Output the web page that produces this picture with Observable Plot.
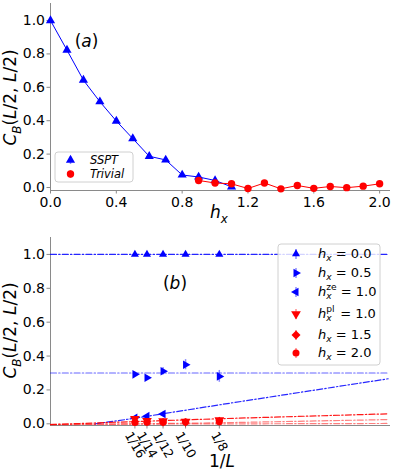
<!DOCTYPE html>
<html><head><meta charset="utf-8">
<script src="https://cdn.jsdelivr.net/npm/d3@7"></script>
<script src="https://cdn.jsdelivr.net/npm/@observablehq/plot@0.6"></script>
<style>body{margin:0;background:#fff}#c svg{display:block}</style>
</head><body><div id="c"></div><script>
// ---------- Panel (a) data ----------
const hxSSPT = [0.0, 0.1, 0.2, 0.3, 0.4, 0.5, 0.6, 0.7, 0.8, 0.9, 1.0, 1.1];
const cbSSPT = [1.0, 0.823, 0.643, 0.514, 0.398, 0.293, 0.187, 0.165, 0.075, 0.063, 0.042, 0.004];
const hxTrivial = [0.9, 1.0, 1.1, 1.2, 1.3, 1.4, 1.5, 1.6, 1.7, 1.8, 1.9, 2.0];
const cbTrivial = [0.042, 0.027, 0.022, -0.006, 0.027, -0.008, 0.012, -0.005, 0.006, -0.001, 0.008, 0.022];
const ticksAx = [0, 0.4, 0.8, 1.2, 1.6, 2.0];
const ticksY = [0, 0.2, 0.4, 0.6, 0.8, 1.0];

// ---------- Panel (b) data ----------
const invL = [1/16, 1/14, 1/12, 1/10, 1/8];
const invLLabels = ["1/16", "1/14", "1/12", "1/10", "1/8"];
const cb00 = [1, 1, 1, 1, 1];
const cb05 = [0.292, 0.272, 0.31, 0.349, 0.28];
const err05 = [0.012, 0.01, 0.022, 0.03, 0.035];
const invLze = [1/16, 1/14, 1/12];
const cbze = [0.035, 0.045, 0.058];
const errze = [0.008, 0.008, 0.01];
const cbpl = [0.03, 0.018, 0.016, 0.014, 0.022];
const cb15 = [0.012, 0.012, 0.011, 0.011, 0.018];
const cb20 = [0.008, 0.009, 0.009, 0.01, 0.012];
// fitted (dash-dot) lines
const fitFlatX = [0, 0.25];
const fit00 = [1.0, 1.0];
const fit05 = [0.3, 0.3];
const fitzeX = [0.033, 0.06, 0.125, 0.25];
const fitze = [0.0, 0.03, 0.112, 0.266];
const fitplX = [0, 0.125, 0.25];
const fitpl = [-0.004, 0.03, 0.059];
const fit15X = [0, 0.125, 0.25];
const fit15 = [-0.006, 0.006, 0.025];
const fit20X = [0, 0.25];
const fit20 = [-0.003, 0.002];

const BLUE = "#0000ff", RED = "#ff0000";
const FONT = "DejaVu Sans";
const rows = (xs, ys, es) => xs.map((x, i) => ({x, y: ys[i], e: es ? es[i] : 0}));
const DASH = "6,2.2,1.4,2.2";

const baseStyle = {fontFamily: FONT, fontSize: "14px", color: "#8a8a8a", background: "white", overflow: "visible"};

const plotA = Plot.plot({
  width: 394, height: 225,
  marginLeft: 50, marginRight: 5, marginTop: 3, marginBottom: 35,
  style: baseStyle,
  x: {domain: [0, 2.06], ticks: ticksAx, tickFormat: d3.format(".1f"), tickSize: 3.5, tickPadding: 3, line: true, label: null},
  y: {domain: [-0.018, 1.102], ticks: ticksY, tickFormat: d3.format(".1f"), tickSize: 3.5, tickPadding: 2, line: true, label: null},
  marks: [
    Plot.line(rows(hxSSPT, cbSSPT), {x: "x", y: "y", stroke: BLUE, strokeWidth: 1}),
    Plot.dot(rows(hxSSPT, cbSSPT), {x: "x", y: "y", symbol: "triangle", fill: BLUE, r: 3.4}),
    Plot.line(rows(hxTrivial, cbTrivial), {x: "x", y: "y", stroke: RED, strokeWidth: 1}),
    Plot.dot(rows(hxTrivial, cbTrivial), {x: "x", y: "y", symbol: "circle", fill: RED, r: 3.7})
  ]
});

const labelDy = invLLabels.map(s => {
  const w = [...s].reduce((a, c) => a + (c === "/" ? 0.337 : 0.636), 0) * 12.5;
  return 4 + (w * 0.866 + 12.5 * 1.1 * 0.5) / 2;
});

const plotB = Plot.plot({
  width: 394, height: 250,
  marginLeft: 50, marginRight: 5, marginTop: 12, marginBottom: 50,
  style: baseStyle,
  x: {domain: [0, 0.251], ticks: invL, tickFormat: () => "", tickSize: 3.5, line: true, label: null},
  y: {domain: [-0.01, 1.1], ticks: ticksY, tickFormat: d3.format(".1f"), tickSize: 3.5, tickPadding: 2, line: true, label: null},
  marks: [
    Plot.line(rows(fitFlatX, fit00), {x: "x", y: "y", stroke: BLUE, strokeWidth: 1.2, strokeDasharray: DASH, strokeOpacity: 0.85}),
    Plot.line(rows(fitFlatX, fit05), {x: "x", y: "y", stroke: BLUE, strokeWidth: 1.2, strokeDasharray: DASH, strokeOpacity: 0.6}),
    Plot.line(rows(fitzeX, fitze), {x: "x", y: "y", stroke: BLUE, strokeWidth: 1.2, strokeDasharray: DASH, strokeOpacity: 0.85}),
    Plot.line(rows(fitplX, fitpl), {x: "x", y: "y", stroke: RED, strokeWidth: 1.2, strokeDasharray: DASH, strokeOpacity: 0.9}),
    Plot.line(rows(fit15X, fit15), {x: "x", y: "y", stroke: RED, strokeWidth: 1.2, strokeDasharray: DASH, strokeOpacity: 0.5}),
    Plot.line(rows(fit20X, fit20), {x: "x", y: "y", stroke: RED, strokeWidth: 1.2, strokeDasharray: DASH, strokeOpacity: 0.5}),
    Plot.ruleX(rows(invL, cb05, err05), {x: "x", y1: d => d.y - d.e, y2: d => d.y + d.e, stroke: BLUE, strokeOpacity: 0.45, strokeWidth: 1.5}),
    Plot.ruleX(rows(invLze, cbze, errze), {x: "x", y1: d => d.y - d.e, y2: d => d.y + d.e, stroke: BLUE, strokeOpacity: 0.45, strokeWidth: 1.5}),
    Plot.dot(rows(invL, cb00), {x: "x", y: "y", symbol: "triangle", fill: BLUE, r: 3}),
    Plot.dot(rows(invL, cb05), {x: "x", y: "y", symbol: "triangle", rotate: 90, fill: BLUE, r: 3.2}),
    Plot.dot(rows(invLze, cbze), {x: "x", y: "y", symbol: "triangle", rotate: -90, fill: BLUE, r: 3.2}),
    Plot.dot(rows(invL, cbpl), {x: "x", y: "y", symbol: "triangle", rotate: 180, fill: RED, r: 3.6}),
    Plot.dot(rows(invL, cb15), {x: "x", y: "y", symbol: "diamond2", fill: RED, r: 3.6}),
    Plot.dot(rows(invL, cb20), {x: "x", y: "y", symbol: "circle", fill: RED, r: 3.5}),
    ...invL.map((v, i) => Plot.text([v], {
      x: d => d, text: () => invLLabels[i], frameAnchor: "bottom", dy: labelDy[i],
      rotate: 60, textAnchor: "middle", lineAnchor: "middle", fontSize: 12.5, fill: "black"
    }))
  ]
});

const box = document.getElementById("c");
box.append(plotA, plotB);
for (const s of [plotA, plotB]) s.querySelectorAll("text").forEach(t => t.setAttribute("fill", "black"));

// ---------- rich text helper ----------
function rich(parent, x, y, parts, size, opts = {}) {
  const t = parent.append("text")
    .attr("font-family", FONT).attr("font-size", size).attr("fill", "black")
    .attr("text-anchor", opts.anchor || "start");
  if (opts.rotate) t.attr("transform", `translate(${x},${y}) rotate(${opts.rotate})`).attr("x", 0).attr("y", size * 0.35);
  else t.attr("x", x).attr("y", y + size * 0.35);
  let cur = 0;
  for (const p of parts) {
    const ts = t.append("tspan").text(p.t);
    const target = p.sub ? 0.28 * size : p.sup ? -0.42 * size : 0;
    const dy = target - cur; cur = target;
    if (dy) ts.attr("dy", dy);
    if (p.dx) ts.attr("dx", p.dx);
    if (p.it) ts.attr("font-style", "italic");
    if (p.sub || p.sup) ts.attr("font-size", 0.7 * size);
  }
  return t;
}

const A = d3.select(plotA), B = d3.select(plotB);
const yLabelParts = [{t: "C", it: true}, {t: "B", it: true, sub: true}, {t: "("}, {t: "L", it: true}, {t: "/2, "}, {t: "L", it: true}, {t: "/2)"}];
rich(A, 10.5, 97.5, yLabelParts, 17, {anchor: "middle", rotate: -90});
rich(A, 219, 212, [{t: "h", it: true}, {t: "x", it: true, sub: true}], 17, {anchor: "middle"});
rich(A, 86.5, 41, [{t: "("}, {t: "a", it: true}, {t: ")"}], 17, {anchor: "middle"});

rich(B, 10.5, 105.5, yLabelParts, 17, {anchor: "middle", rotate: -90});
rich(B, 222, 236, [{t: "1/"}, {t: "L", it: true}], 17, {anchor: "middle"});
rich(B, 175, 58, [{t: "("}, {t: "b", it: true}, {t: ")"}], 17, {anchor: "middle"});

// ---------- legends ----------
function marker(g, x, y, type, color, r, err) {
  if (err) g.append("line").attr("x1", x).attr("x2", x).attr("y1", y - err).attr("y2", y + err)
    .attr("stroke", color).attr("stroke-opacity", 0.45).attr("stroke-width", 1.5);
  const sym = {triangle: d3.symbolTriangle, circle: d3.symbolCircle, diamond: d3.symbolSquare}[type.name];
  g.append("path").attr("d", d3.symbol(sym, Math.PI * r * r)())
    .attr("transform", `translate(${x},${y}) rotate(${type.rot || 0})`).attr("fill", color);
}

// legend (a)
const la = A.append("g");
la.append("rect").attr("x", 55).attr("y", 152).attr("width", 78).attr("height", 30).attr("rx", 3)
  .attr("fill", "white").attr("fill-opacity", 0.8).attr("stroke", "#d0d0d0");
marker(la, 70.5, 160, {name: "triangle"}, BLUE, 3.4, 4);
marker(la, 70.5, 174, {name: "circle"}, RED, 3.7, 4);
rich(la, 90, 160, [{t: "SSPT", it: true}], 11.5);
rich(la, 90, 174, [{t: "Trivial", it: true}], 11.5);

// legend (b)
const lb = B.append("g");
lb.append("rect").attr("x", 278).attr("y", 19).attr("width", 102).attr("height", 121).attr("rx", 3)
  .attr("fill", "white").attr("fill-opacity", 0.8).attr("stroke", "#d0d0d0");
const legRows = [
  {y: 29, m: {name: "triangle"}, c: BLUE, r: 3, parts: [{t: "h", it: true}, {t: "x", it: true, sub: true}, {t: " = 0.0"}]},
  {y: 48, m: {name: "triangle", rot: 90}, c: BLUE, r: 3.2, parts: [{t: "h", it: true}, {t: "x", it: true, sub: true}, {t: " = 0.5"}]},
  {y: 67, m: {name: "triangle", rot: -90}, c: BLUE, r: 3.2, parts: [{t: "h", it: true}, {t: "x", it: true, sub: true}, {t: "ze", sup: true, dx: -5.4}, {t: " = 1.0"}]},
  {y: 89, m: {name: "triangle", rot: 180}, c: RED, r: 3.6, parts: [{t: "h", it: true}, {t: "x", it: true, sub: true}, {t: "pl", sup: true, dx: -5.4}, {t: " = 1.0", dx: 1.5}]},
  {y: 110, m: {name: "diamond", rot: 45}, c: RED, r: 3.6, parts: [{t: "h", it: true}, {t: "x", it: true, sub: true}, {t: " = 1.5"}]},
  {y: 128, m: {name: "circle"}, c: RED, r: 3.5, parts: [{t: "h", it: true}, {t: "x", it: true, sub: true}, {t: " = 2.0"}]}
];
for (const row of legRows) {
  marker(lb, 296, row.y, row.m, row.c, row.r, 5);
  rich(lb, 318, row.y - 1, row.parts, 13);
}
</script></body></html>
